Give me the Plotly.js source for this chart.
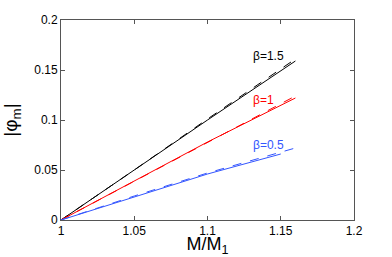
<!DOCTYPE html>
<html>
<head>
<meta charset="utf-8">
<script src="https://cdn.plot.ly/plotly-3.0.1.min.js"></script>
<style>html,body{margin:0;padding:0;background:#fff;}#chart{width:392px;height:257px;}</style>
</head>
<body>
<div id="chart"></div>
<script>
// M/M1 values
const xSolid = [1, 1.05, 1.1, 1.15];
const xDash = [1, 1.05, 1.1, 1.16];
const xSolidLong = [1, 1.05, 1.1, 1.16];
// |phi_m| values
const beta15Solid = [0, 0.050, 0.100, 0.159];
const beta15Dash = [0, 0.050, 0.101, 0.161];
const beta1Solid = [0, 0.039, 0.078, 0.122];
const beta1Dash = [0, 0.039, 0.078, 0.124];
const beta05Solid = [0, 0.023, 0.046, 0.066];
const beta05Dash = [0, 0.024, 0.047, 0.072];
const xTicks = [1, 1.05, 1.1, 1.15, 1.2];
const xTickLabels = ['1', '1.05', '1.1', '1.15', '1.2'];
const yTicks = [0, 0.05, 0.1, 0.15, 0.2];
const yTickLabels = ['0', '0.05', '0.1', '0.15', '0.2'];
const labels = ['β=1.5', 'β=1', 'β=0.5'];
const labelX = [1.1413, 1.1385, 1.1413];
const labelY = [0.164, 0.120, 0.075];
const colors = ['#000000', '#ff0000', '#3355ff'];

function line(x, y, c, dash) {
  return {x: x, y: y, type: 'scatter', mode: 'lines', showlegend: false,
    line: {color: c, width: 1, dash: dash}, hoverinfo: 'skip'};
}
const data = [
  line(xSolidLong, beta15Solid, colors[0], 'solid'),
  line(xDash, beta15Dash, colors[0], 'dash'),
  line(xSolidLong, beta1Solid, colors[1], 'solid'),
  line(xDash, beta1Dash, colors[1], 'dash'),
  line(xSolid, beta05Solid, colors[2], 'solid'),
  line(xDash, beta05Dash, colors[2], 'dash')
];
const ann = labels.map((t, i) => ({x: labelX[i], y: labelY[i], xref: 'x', yref: 'y', text: t,
  showarrow: false, font: {family: 'Liberation Sans, Arial, sans-serif', size: 12, color: colors[i]}}));
const axisFont = {family: 'Liberation Sans, Arial, sans-serif', size: 12, color: '#000'};
const layout = {
  width: 392, height: 257,
  margin: {l: 61, r: 38, t: 20, b: 37},
  paper_bgcolor: '#fff', plot_bgcolor: '#fff',
  showlegend: false,
  xaxis: {range: [1, 1.2], tickvals: xTicks, ticktext: xTickLabels, ticks: 'inside', ticklen: 4,
    tickcolor: '#555', showline: true, linecolor: '#555', linewidth: 1, mirror: 'ticks',
    showgrid: false, zeroline: false, tickfont: axisFont,
    title: {text: 'M/M<sub>1</sub>', font: {family: 'Liberation Sans, Arial, sans-serif', size: 18, color: '#000'}, standoff: 5}},
  yaxis: {range: [0, 0.2], tickvals: yTicks, ticktext: yTickLabels, ticks: 'inside', ticklen: 4,
    tickcolor: '#555', showline: true, linecolor: '#555', linewidth: 1, mirror: 'ticks',
    showgrid: false, zeroline: false, tickfont: axisFont,
    title: {text: '|φ<sub>m</sub>|', font: {family: 'Liberation Sans, Arial, sans-serif', size: 19, color: '#000'}, standoff: 12}},
  annotations: ann
};
Plotly.newPlot('chart', data, layout, {displayModeBar: false, staticPlot: true});
</script>
</body>
</html>
